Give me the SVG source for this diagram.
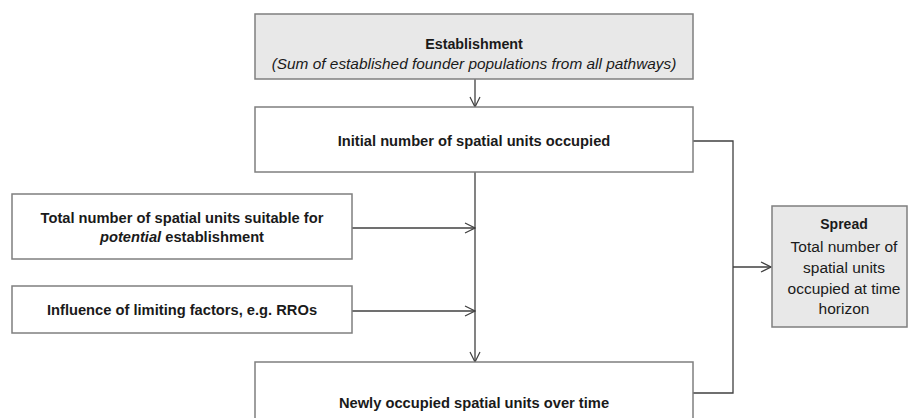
<svg xmlns="http://www.w3.org/2000/svg" width="908" height="418" viewBox="0 0 908 418">
<style>
.box{fill:#ffffff;stroke:#7f7f7f;stroke-width:1.5}
.gray{fill:#e8e8e8;stroke:#7f7f7f;stroke-width:1.5}
.t{font-family:"Liberation Sans",Arial,sans-serif;font-size:14.7px;fill:#1a1a1a;text-anchor:middle}
.b{font-weight:bold}
.i{font-style:italic}
.s{font-size:15.5px}
.ln{fill:none;stroke:#404040;stroke-width:1.3}
</style>
<defs>
<marker id="ar" viewBox="0 0 12 12" refX="11" refY="6" markerWidth="12" markerHeight="12" markerUnits="userSpaceOnUse" orient="auto">
<path d="M1,1 L11,6 L1,11" fill="none" stroke="#404040" stroke-width="1.2"/>
</marker>
</defs>
<rect width="908" height="418" fill="#ffffff"/>
<g id="connectors">
<line class="ln" x1="475" y1="79" x2="475" y2="107" marker-end="url(#ar)"/>
<line class="ln" x1="475" y1="172" x2="475" y2="362" marker-end="url(#ar)"/>
<line class="ln" x1="352" y1="228" x2="475" y2="228" marker-end="url(#ar)"/>
<line class="ln" x1="352" y1="311" x2="475" y2="311" marker-end="url(#ar)"/>
<polyline class="ln" points="693,141 733,141 733,393 693,393"/>
<line class="ln" x1="733" y1="267" x2="771" y2="267" marker-end="url(#ar)"/>
</g>
<g id="establishment">
<rect class="gray" x="255" y="14" width="438" height="65"/>
<text class="t b" x="474" y="49" style="font-size:14.3px">Establishment</text>
<text class="t i" x="474" y="69" style="font-size:15.4px">(Sum of established founder populations from all pathways)</text>
</g>
<g id="initial">
<rect class="box" x="255" y="107" width="438" height="65"/>
<text class="t b" x="474" y="146">Initial number of spatial units occupied</text>
</g>
<g id="total">
<rect class="box" x="12" y="194" width="340" height="65"/>
<text class="t b" x="182" y="223">Total number of spatial units suitable for</text>
<text class="t b" x="182" y="242"><tspan class="i">potential</tspan> establishment</text>
</g>
<g id="influence">
<rect class="box" x="12" y="286" width="340" height="47"/>
<text class="t b" x="182" y="315">Influence of limiting factors, e.g. RROs</text>
</g>
<g id="newly">
<rect class="box" x="255" y="362" width="438" height="70"/>
<text class="t b" x="474" y="408">Newly occupied spatial units over time</text>
</g>
<g id="spread">
<rect class="gray" x="772" y="206" width="135" height="121"/>
<text class="t b" x="844" y="229" style="font-size:14px">Spread</text>
<text class="t s" x="844" y="252">Total number of</text>
<text class="t s" x="844" y="273">spatial units</text>
<text class="t s" x="844" y="294">occupied at time</text>
<text class="t s" x="844" y="314">horizon</text>
</g>
</svg>
